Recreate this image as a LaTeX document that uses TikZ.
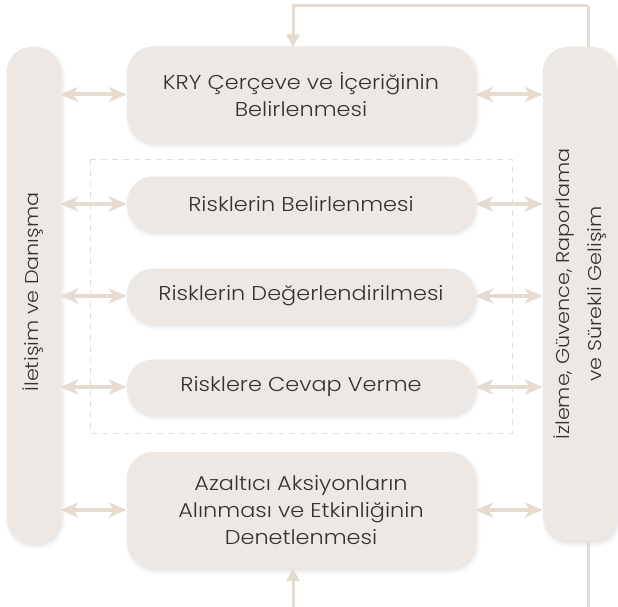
\documentclass[tikz,border=0pt]{standalone}
\usepackage{fontspec}
\setmainfont{Poppins Light}[FakeStretch=1.12]
\usetikzlibrary{arrows.meta,shadows.blur}
\definecolor{boxfill}{HTML}{EDE8E3}
\definecolor{arrowc}{HTML}{E6DBD1}
\definecolor{txt}{HTML}{333333}
\definecolor{dashc}{HTML}{E8DDD4}
\tikzset{
  procbox/.style={fill=boxfill, rounded corners=26pt, text=txt, font=\fontsize{20}{27}\selectfont, align=center, inner sep=0pt,
    blur shadow={shadow xshift=2pt, shadow yshift=-3pt, shadow blur steps=6, shadow opacity=12, shadow blur radius=4pt}},
  bar/.style={fill=boxfill, rounded corners=24pt, inner sep=0pt,
    blur shadow={shadow xshift=2pt, shadow yshift=-3pt, shadow blur steps=6, shadow opacity=12, shadow blur radius=4pt}},
  dbl/.style={arrowc, line width=4pt, {Stealth[length=18pt,width=15pt,inset=5pt]}-{Stealth[length=18pt,width=15pt,inset=5pt]}},
  fb/.style={arrowc, line width=3pt},
}
\begin{document}
\begin{tikzpicture}[x=1pt,y=-1pt]
\useasboundingbox (0,0) rectangle (618,607);
% bars
\node[bar, minimum width=53pt, minimum height=496pt] (L) at (33.5,295) {};
\node[bar, minimum width=74pt, minimum height=494pt] (R) at (580,294) {};
\node[rotate=90, text=txt, font=\fontsize{18.5}{27}\selectfont] (Lt) at (33,292) {İletişim ve Danışma};
\node[rotate=90, text=txt, font=\fontsize{18.5}{32}\selectfont, align=center] (Rt) at (R.center) {İzleme, Güvence, Raporlama\\ve Sürekli Gelişim};
% dashed frame
\draw[dashc, line width=1pt, dash pattern=on 6pt off 5pt] (90,159) rectangle (512,433);
% boxes
\node[procbox, minimum width=348pt, minimum height=96pt] (B1) at (301,94.5) {KRY Çerçeve ve İçeriğinin\\Belirlenmesi};
\node[procbox, minimum width=348pt, minimum height=55pt] (B2) at (301,204) {Risklerin Belirlenmesi};
\node[procbox, minimum width=348pt, minimum height=55pt] (B3) at (301,296) {Risklerin Değerlendirilmesi};
\node[procbox, minimum width=348pt, minimum height=55pt] (B4) at (301,387) {Risklere Cevap Verme};
\node[procbox, minimum width=348pt, minimum height=116pt] (B5) at (301,510) {Azaltıcı Aksiyonların\\Alınması ve Etkinliğinin\\Denetlenmesi};
% arrows
\foreach \b in {B1,B2,B3,B4,B5}{
  \draw[dbl] (L.east |- \b.west) -- (\b.west);
  \draw[dbl] (\b.east) -- (R.west |- \b.east);
}
% feedback
\coordinate (t1) at (588,6);
\coordinate (t2) at (293,6);
\coordinate (b1) at (588,610);
\coordinate (b2) at (293,610);
\draw[fb] (R.north -| t1) -- (t1);
\draw[fb, -{Triangle[length=13pt,width=13pt]}] (t1) -- (t2) -- ([yshift=-1pt]t2 |- B1.north);
\draw[fb] (R.south -| b1) -- (b1);
\draw[fb, -{Triangle[length=13pt,width=13pt]}] (b2) -- (b2 |- B5.south);
\end{tikzpicture}
\end{document}
